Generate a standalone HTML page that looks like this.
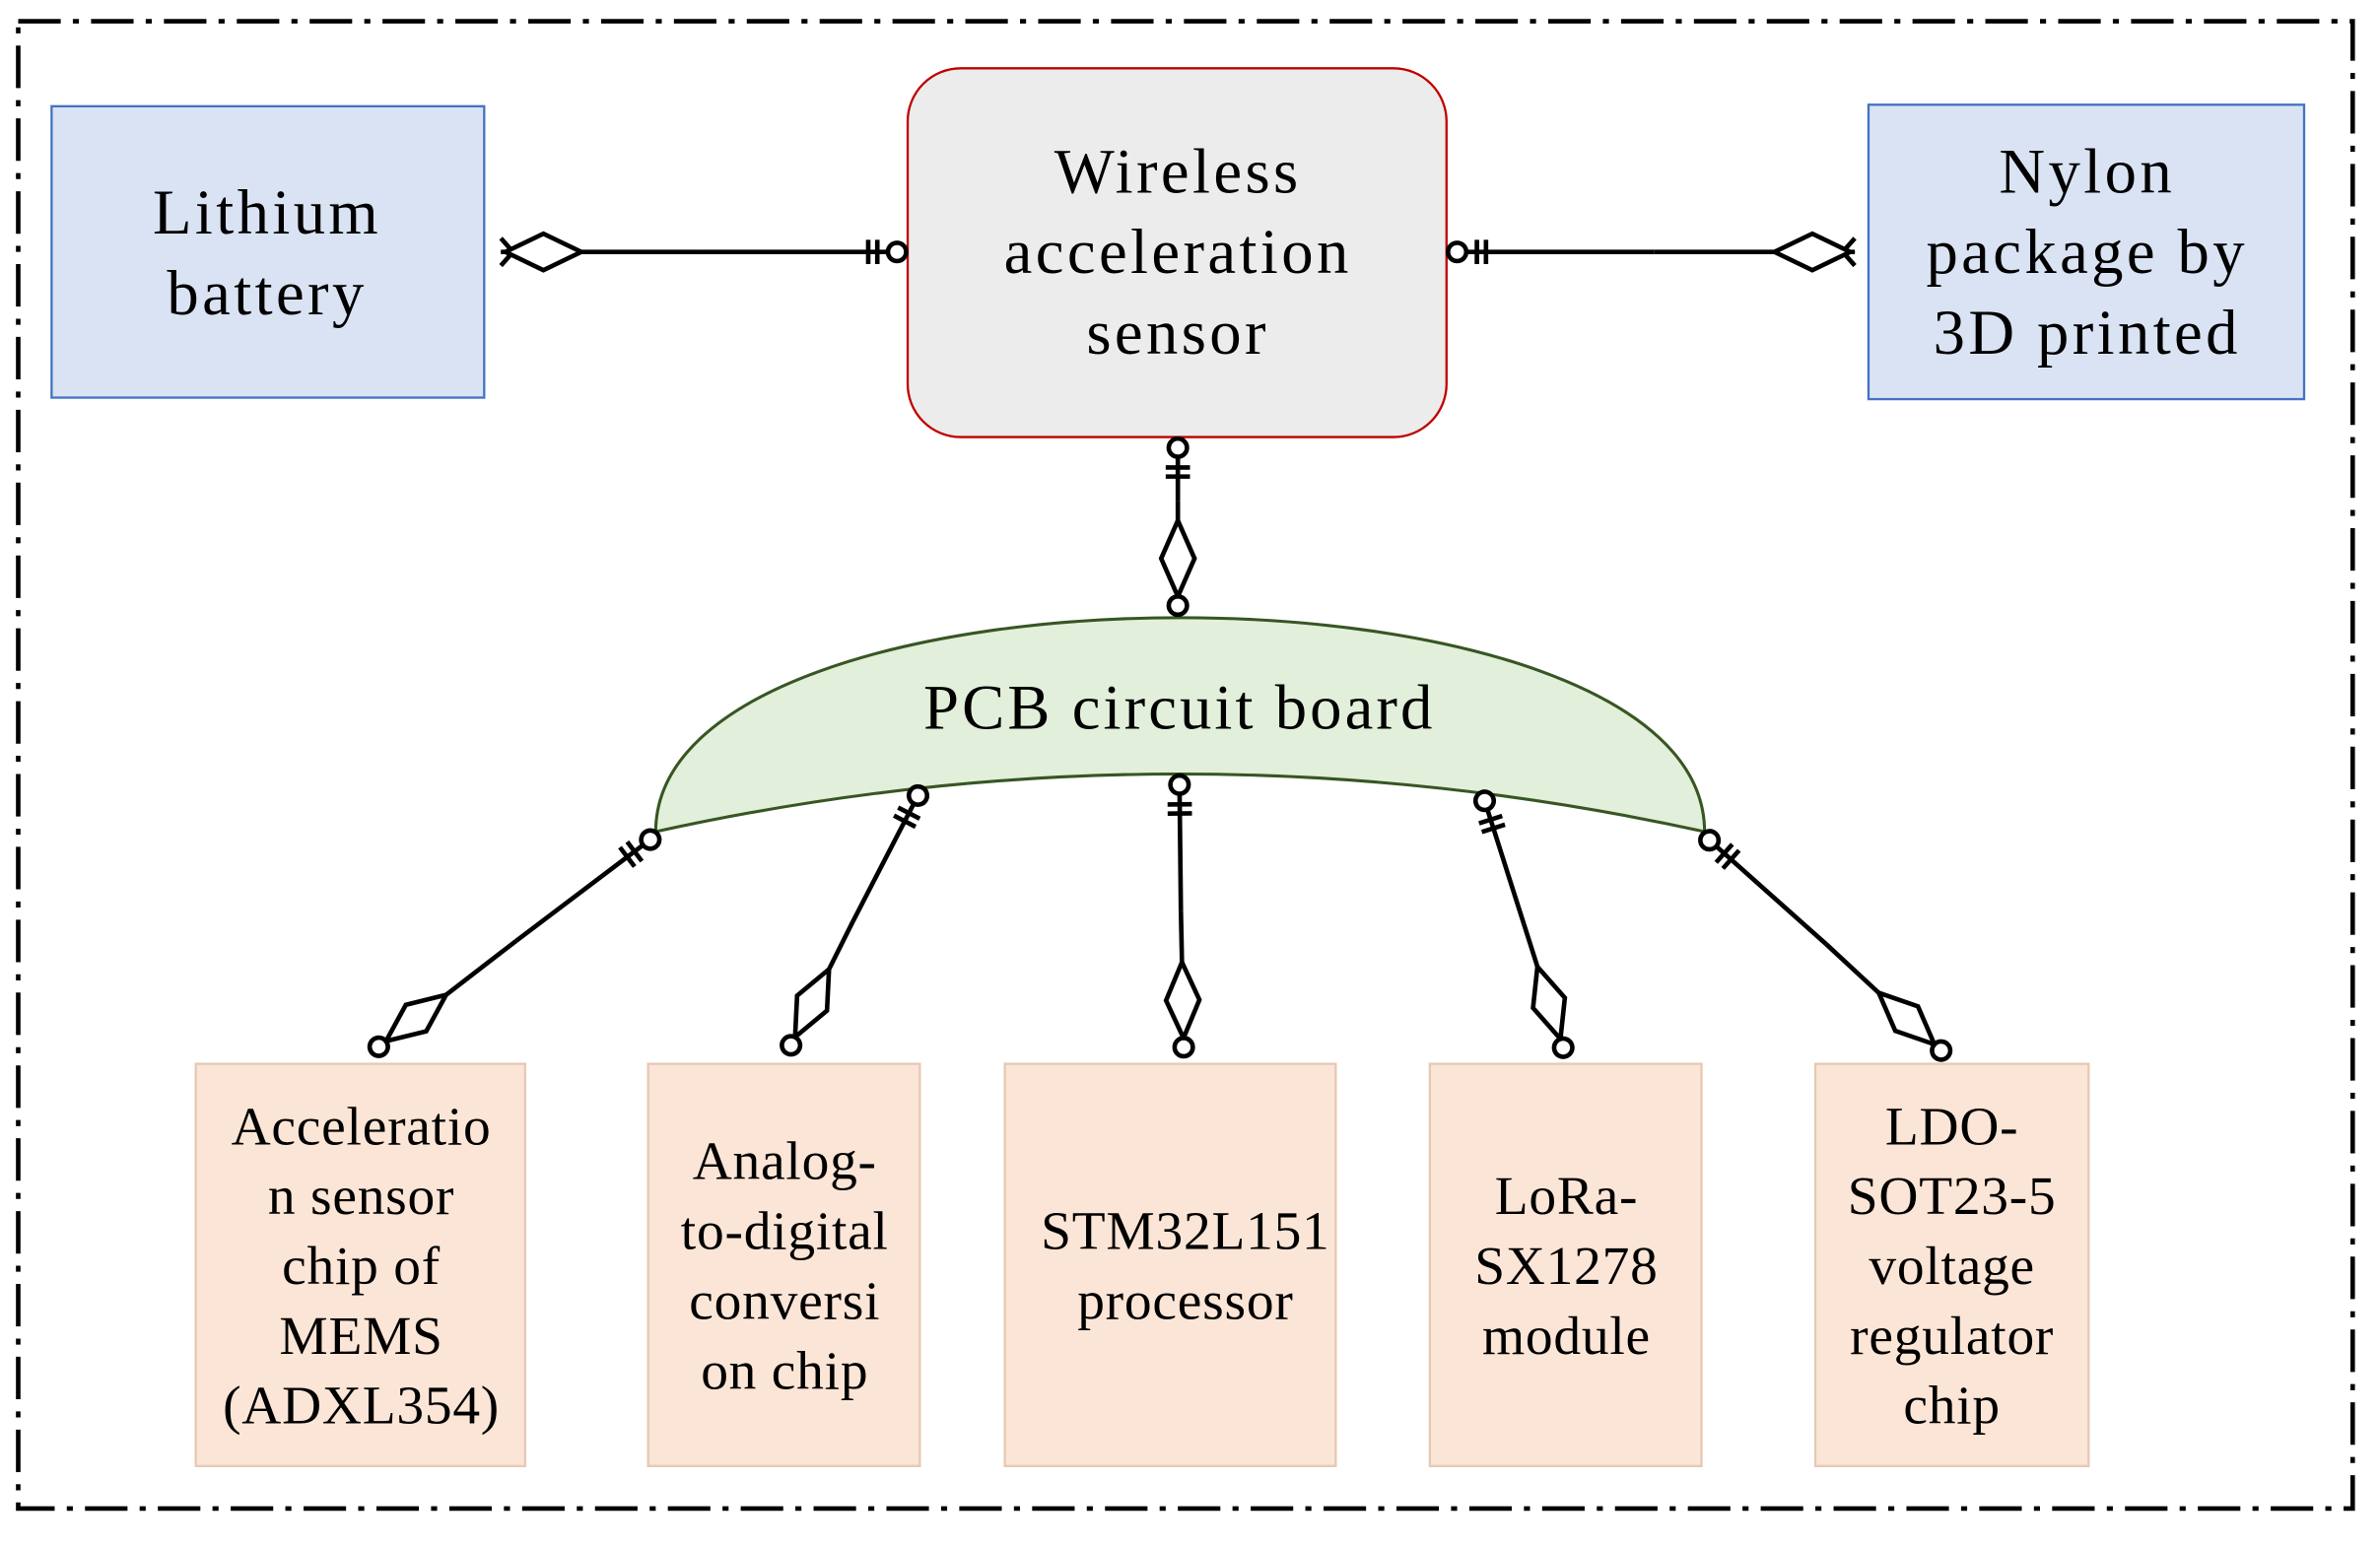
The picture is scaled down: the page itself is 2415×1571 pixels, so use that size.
<!DOCTYPE html>
<html><head><meta charset="utf-8"><style>
html,body{margin:0;padding:0;background:#fff}
svg{display:block}
text{font-family:"Liberation Serif",serif;fill:#000}
.big{letter-spacing:2.2px}
.sm{letter-spacing:0.5px}
</style></head><body>
<svg width="2415" height="1571" viewBox="0 0 1568 1020" xmlns="http://www.w3.org/2000/svg">
<defs>
<marker id="A" markerUnits="userSpaceOnUse" viewBox="-40 -20 50 40" refX="0" refY="0" markerWidth="50" markerHeight="40" orient="auto" overflow="visible">
 <circle cx="-7" cy="0" r="6" fill="#fff" stroke="#000" stroke-width="3"/>
 <line x1="-20" y1="-8" x2="-20" y2="8" stroke="#000" stroke-width="3"/>
 <line x1="-26" y1="-8" x2="-26" y2="8" stroke="#000" stroke-width="3"/>
</marker>
<marker id="B" markerUnits="userSpaceOnUse" viewBox="-70 -20 80 40" refX="0" refY="0" markerWidth="80" markerHeight="40" orient="auto" overflow="visible">
 <path d="M-13 0 L-38 -11 L-63 0 L-38 11 Z" fill="#fff" stroke="#000" stroke-width="3"/>
 <circle cx="-7" cy="0" r="6" fill="#fff" stroke="#000" stroke-width="3"/>
</marker>
<marker id="C" markerUnits="userSpaceOnUse" viewBox="-70 -20 80 40" refX="0" refY="0" markerWidth="80" markerHeight="40" orient="auto" overflow="visible">
 <path d="M0 -9 L-8 0 L0 9" fill="none" stroke="#000" stroke-width="3"/>
 <path d="M-3 0 L-28 -12 L-53 0 L-28 12 Z" fill="#fff" stroke="#000" stroke-width="3"/>
</marker>
</defs>
<rect x="12" y="14" width="1538" height="980" fill="none" stroke="#000" stroke-width="3" stroke-dasharray="28 8 4 8"/>

<rect x="34" y="70" width="285" height="192" fill="#dae3f3" stroke="#4472c4" stroke-width="1.5"/>
<text class="big" x="176" y="154" font-size="42" text-anchor="middle">Lithium</text>
<text class="big" x="176" y="207" font-size="42" text-anchor="middle">battery</text>

<rect x="598" y="45" width="355" height="243" rx="35" fill="#ececec" stroke="#c00000" stroke-width="1.5"/>
<text class="big" x="776" y="127" font-size="42" text-anchor="middle">Wireless</text>
<text class="big" x="776" y="180" font-size="42" text-anchor="middle">acceleration</text>
<text class="big" x="776" y="233" font-size="42" text-anchor="middle">sensor</text>

<rect x="1231" y="69" width="287" height="194" fill="#dae3f3" stroke="#4472c4" stroke-width="1.5"/>
<text class="big" x="1375" y="127" font-size="42" text-anchor="middle">Nylon</text>
<text class="big" x="1375" y="180" font-size="42" text-anchor="middle">package by</text>
<text class="big" x="1375" y="233" font-size="42" text-anchor="middle">3D printed</text>

<path d="M432 548 C432 360 1123 360 1123 548 Q777 472 432 548 Z" fill="#e2efda" stroke="#375623" stroke-width="2"/>
<text x="777" y="480" font-size="42" text-anchor="middle" letter-spacing="2">PCB circuit board</text>

<g stroke="#000" stroke-width="3" fill="none">
 <line x1="460" y1="166" x2="330" y2="166" marker-end="url(#C)"/>
 <line x1="460" y1="166" x2="598" y2="166" marker-end="url(#A)"/>
 <line x1="1090" y1="166" x2="1222" y2="166" marker-end="url(#C)"/>
 <line x1="1090" y1="166" x2="953" y2="166" marker-end="url(#A)"/>
 <line x1="776" y1="330" x2="776" y2="288" marker-end="url(#A)"/>
 <line x1="776" y1="330" x2="776" y2="406" marker-end="url(#B)"/>

 <line x1="340" y1="620" x2="434" y2="549" marker-end="url(#A)"/>
 <line x1="340" y1="620" x2="244" y2="694" marker-end="url(#B)"/>
 <line x1="562" y1="607" x2="608" y2="518" marker-end="url(#A)"/>
 <line x1="562" y1="607" x2="518" y2="695" marker-end="url(#B)"/>
 <line x1="778" y1="600" x2="777" y2="510" marker-end="url(#A)"/>
 <line x1="778" y1="600" x2="780" y2="697" marker-end="url(#B)"/>
 <line x1="1004" y1="609" x2="976" y2="521" marker-end="url(#A)"/>
 <line x1="1004" y1="609" x2="1032" y2="697" marker-end="url(#B)"/>
 <line x1="1203" y1="622" x2="1121" y2="549" marker-end="url(#A)"/>
 <line x1="1203" y1="622" x2="1284" y2="697" marker-end="url(#B)"/>
</g>

<g fill="#fbe5d6" stroke="#e6c9b4" stroke-width="1.5">
 <rect x="129" y="701" width="217" height="265"/>
 <rect x="427" y="701" width="179" height="265"/>
 <rect x="662" y="701" width="218" height="265"/>
 <rect x="942" y="701" width="179" height="265"/>
 <rect x="1196" y="701" width="180" height="265"/>
</g>
<g class="sm" font-size="36" text-anchor="middle">
 <text x="238" y="754">Acceleratio</text>
 <text x="238" y="800">n sensor</text>
 <text x="238" y="846">chip of</text>
 <text x="238" y="892">MEMS</text>
 <text x="238" y="938">(ADXL354)</text>
 <text x="517" y="777">Analog-</text>
 <text x="517" y="823">to-digital</text>
 <text x="517" y="869">conversi</text>
 <text x="517" y="915">on chip</text>
 <text x="781" y="823">STM32L151</text>
 <text x="781" y="869">processor</text>
 <text x="1032" y="800">LoRa-</text>
 <text x="1032" y="846">SX1278</text>
 <text x="1032" y="892">module</text>
 <text x="1286" y="754">LDO-</text>
 <text x="1286" y="800">SOT23-5</text>
 <text x="1286" y="846">voltage</text>
 <text x="1286" y="892">regulator</text>
 <text x="1286" y="938">chip</text>
</g>
</svg>
</body></html>
